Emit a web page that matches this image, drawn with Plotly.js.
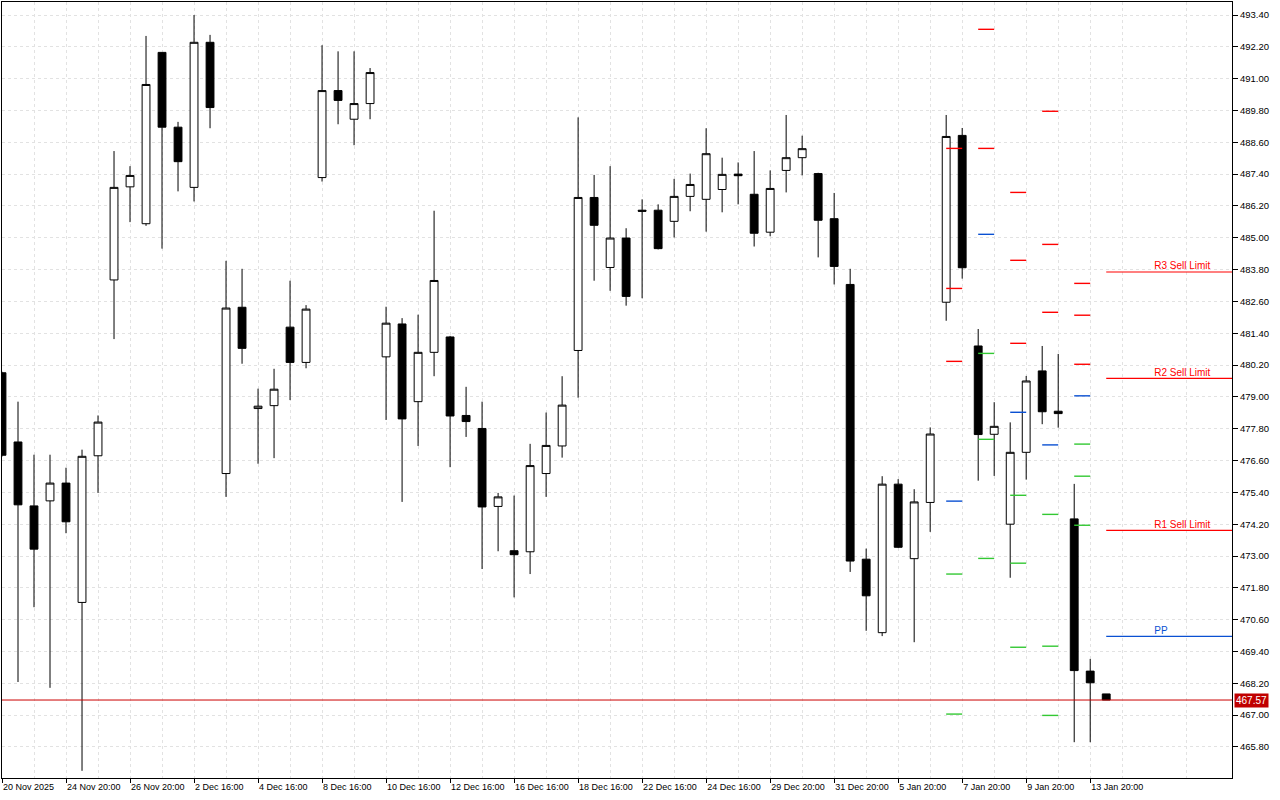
<!DOCTYPE html>
<html>
<head>
<meta charset="utf-8">
<script src="https://cdn.plot.ly/plotly-3.0.1.min.js"></script>
<style>
  html, body { margin: 0; padding: 0; background: #ffffff; }
  #chart { width: 1280px; height: 800px; }
</style>
</head>
<body>
<div id="chart"></div>
<script>
// ---- Candle data (index = bar number, 12h bars) ----
const openP  = [479.91,477.30,474.89,475.08,475.75,471.25,476.78,483.41,486.92,485.53,
                491.99,489.17,486.90,492.37,476.11,482.38,478.56,478.67,481.63,480.30,
                487.27,490.55,489.47,490.06,480.51,481.75,478.82,480.68,481.26,478.30,
                477.81,474.87,473.20,473.16,476.11,477.15,480.75,486.52,483.88,484.99,
                486.04,486.04,485.62,486.56,486.45,486.82,487.40,486.64,485.21,487.54,
                488.02,487.42,485.72,483.24,472.88,470.11,475.71,472.90,475.02,482.57,
                488.86,480.92,477.59,474.20,476.91,479.98,478.46,474.40,468.66,467.80];
const highP  = [479.95,478.82,476.82,476.82,476.33,477.01,478.30,488.27,487.70,492.61,
                492.00,489.37,493.40,492.65,484.13,483.83,479.31,480.06,483.38,482.46,
                492.26,492.03,492.03,491.40,482.40,481.97,482.10,486.02,481.30,479.38,
                478.82,475.38,475.28,477.23,478.41,479.78,489.54,487.37,487.70,485.36,
                486.45,486.26,487.22,487.42,489.13,488.02,487.84,488.27,487.54,489.63,
                488.85,487.45,486.69,483.83,473.28,476.01,475.90,475.52,477.85,489.63,
                489.14,481.56,478.80,478.04,479.79,480.92,480.62,475.72,469.12,467.80];
const lowP   = [476.75,468.25,471.07,468.03,473.86,464.90,475.38,481.18,485.59,485.45,
                484.59,486.75,486.37,489.13,475.23,480.25,476.48,476.69,478.88,480.08,
                487.12,489.28,488.49,489.47,478.13,475.04,477.15,479.78,476.35,477.49,
                472.51,473.18,471.44,472.32,475.23,476.71,478.97,483.38,483.00,482.44,
                482.72,484.56,485.01,486.00,485.23,485.96,486.26,484.67,485.06,486.71,
                487.35,484.26,483.24,472.40,470.18,469.98,473.30,469.75,473.91,481.87,
                483.46,475.84,476.02,472.18,475.88,477.97,477.84,465.98,465.98,467.57];
const closeP = [476.80,474.93,473.26,475.75,474.29,476.76,478.05,486.90,487.35,490.78,
                489.17,487.87,492.37,489.91,482.35,480.83,478.65,479.29,480.30,482.31,
                490.55,490.18,490.06,491.23,481.78,478.17,480.68,483.39,478.28,478.07,
                474.85,475.23,473.05,476.41,477.17,478.69,486.52,485.47,484.99,482.79,
                486.00,484.59,486.56,487.01,488.17,487.39,487.34,485.17,486.86,488.02,
                488.36,485.66,483.92,472.81,471.50,475.71,473.33,475.04,477.60,488.82,
                483.87,477.58,477.89,476.91,479.60,478.44,478.37,468.68,468.22,467.57];

// ---- X tick labels (every 4th bar) ----
const tickIdx = [0,4,8,12,16,20,24,28,32,36,40,44,48,52,56,60,64,68];
const tickLabels = ['20 Nov 2025','24 Nov 20:00','26 Nov 20:00','2 Dec 16:00','4 Dec 16:00',
                    '8 Dec 16:00','10 Dec 16:00','12 Dec 16:00','16 Dec 16:00','18 Dec 16:00',
                    '22 Dec 16:00','24 Dec 16:00','29 Dec 20:00','31 Dec 20:00','5 Jan 20:00',
                    '7 Jan 20:00','9 Jan 20:00','13 Jan 20:00'];

// ---- Daily pivot levels (segment starts at bar index, spans one day = 2 bars) ----
const pivotStart = [59, 61, 63, 65, 67];
const pivR3 = [488.37, null,   486.71, 489.77, 483.28];
const pivR2 = [483.09, 492.86, 484.15, 484.75, 482.08];
const pivR1 = [480.34, 488.37, 481.02, 482.19, 480.23];
const pivPP = [475.07, 485.13, 478.42, 477.19, 479.04];
const pivS1 = [472.32, 480.64, 475.29, 474.57, 477.22];
const pivS2 = [467.04, 477.40, 472.73, 469.60, 476.01];
const pivS3 = [null,   472.91, 469.56, 466.99, 474.16];

// ---- Current day levels and labels ----
const curStart = 69;
const curLevelNames = ['R3 Sell Limit','R2 Sell Limit','R1 Sell Limit','PP','S1 TP'];
const curLevels = [483.71, 479.70, 473.97, 469.97, 464.23];
const curColors = ['#ff0000','#ff0000','#ff0000','#0a50d2','#3cc83c'];
const lastPrice = 467.57;

const xIdx = openP.map((_, i) => i);
const X_MAX = 76.86;

function segTrace(levels, color) {
  const xs = [], ys = [];
  pivotStart.forEach((s, k) => {
    if (levels[k] === null) return;
    xs.push(s, s + 1, null);
    ys.push(levels[k], levels[k], null);
  });
  return { type: 'scatter', mode: 'lines', x: xs, y: ys,
           line: { color: color, width: 1.4 }, hoverinfo: 'skip', showlegend: false };
}

const traces = [
  {
    type: 'candlestick', x: xIdx, open: openP, high: highP, low: lowP, close: closeP,
    increasing: { line: { color: '#000000', width: 1 }, fillcolor: '#ffffff' },
    decreasing: { line: { color: '#000000', width: 1 }, fillcolor: '#000000' },
    whiskerwidth: 0, hoverinfo: 'skip', showlegend: false
  },
  segTrace(pivR3, '#ff0000'), segTrace(pivR2, '#ff0000'), segTrace(pivR1, '#ff0000'),
  segTrace(pivPP, '#0a50d2'),
  segTrace(pivS1, '#33c833'), segTrace(pivS2, '#33c833'), segTrace(pivS3, '#33c833')
];

curLevels.forEach((lv, k) => {
  traces.push({ type: 'scatter', mode: 'lines', x: [curStart, X_MAX + 1], y: [lv, lv],
                line: { color: curColors[k], width: 1.2 }, hoverinfo: 'skip', showlegend: false });
});

traces.push({
  type: 'scatter', mode: 'text', x: curLevels.map(() => 72), y: curLevels,
  text: curLevelNames, textposition: 'top right', cliponaxis: true,
  textfont: { family: 'Liberation Sans, Arial, sans-serif', size: 10, color: curColors },
  marker: { size: 1 }, hoverinfo: 'skip', showlegend: false
});

const minorIdx = [];
for (let i = 2; i <= 76; i += 4) minorIdx.push(i);

const gridColor = '#e2e2e2';
const layout = {
  width: 1280, height: 800,
  margin: { l: 2, r: 48, t: 2, b: 22, pad: 0 },
  paper_bgcolor: '#ffffff', plot_bgcolor: '#ffffff',
  showlegend: false, hovermode: false,
  font: { family: 'Liberation Sans, Arial, sans-serif', size: 9, color: '#000000' },
  xaxis: {
    type: 'linear', range: [0, X_MAX], fixedrange: true,
    rangeslider: { visible: false },
    tickmode: 'array', tickvals: tickIdx, ticktext: tickLabels, tickangle: 0,
    ticks: 'outside', ticklen: 4, tickcolor: '#000000', tickwidth: 1,
    ticklabelposition: 'outside right',
    tickfont: { family: 'Liberation Sans, Arial, sans-serif', size: 9, color: '#000000' },
    showgrid: true, gridcolor: gridColor, griddash: '3px,3px', gridwidth: 1,
    minor: { tickmode: 'array', tickvals: minorIdx, showgrid: true, gridcolor: gridColor,
             griddash: '3px,3px', gridwidth: 1, ticks: '' },
    showline: true, linecolor: '#000000', linewidth: 1, mirror: true,
    zeroline: false
  },
  yaxis: {
    side: 'right', range: [464.63, 493.89], fixedrange: true,
    tick0: 465.8, dtick: 1.2, tickformat: '.2f',
    ticks: 'outside', ticklen: 5, tickcolor: '#000000', tickwidth: 1,
    tickfont: { family: 'Liberation Sans, Arial, sans-serif', size: 9.5, color: '#000000' },
    showgrid: true, gridcolor: gridColor, griddash: '3px,3px', gridwidth: 1,
    showline: true, linecolor: '#000000', linewidth: 1, mirror: true,
    zeroline: false
  },
  shapes: [{
    type: 'line', xref: 'paper', x0: 0, x1: 1, yref: 'y', y0: lastPrice, y1: lastPrice,
    line: { color: '#cc0000', width: 1 }, layer: 'above'
  }],
  annotations: [{
    xref: 'paper', x: 1, xanchor: 'left', xshift: 2, yref: 'y', y: lastPrice, yanchor: 'middle',
    text: lastPrice.toFixed(2), showarrow: false, bgcolor: '#c00000', borderpad: 1,
    font: { family: 'Liberation Sans, Arial, sans-serif', size: 10, color: '#ffffff' }
  }]
};

Plotly.newPlot('chart', traces, layout, { displayModeBar: false, staticPlot: true });
</script>
</body>
</html>
